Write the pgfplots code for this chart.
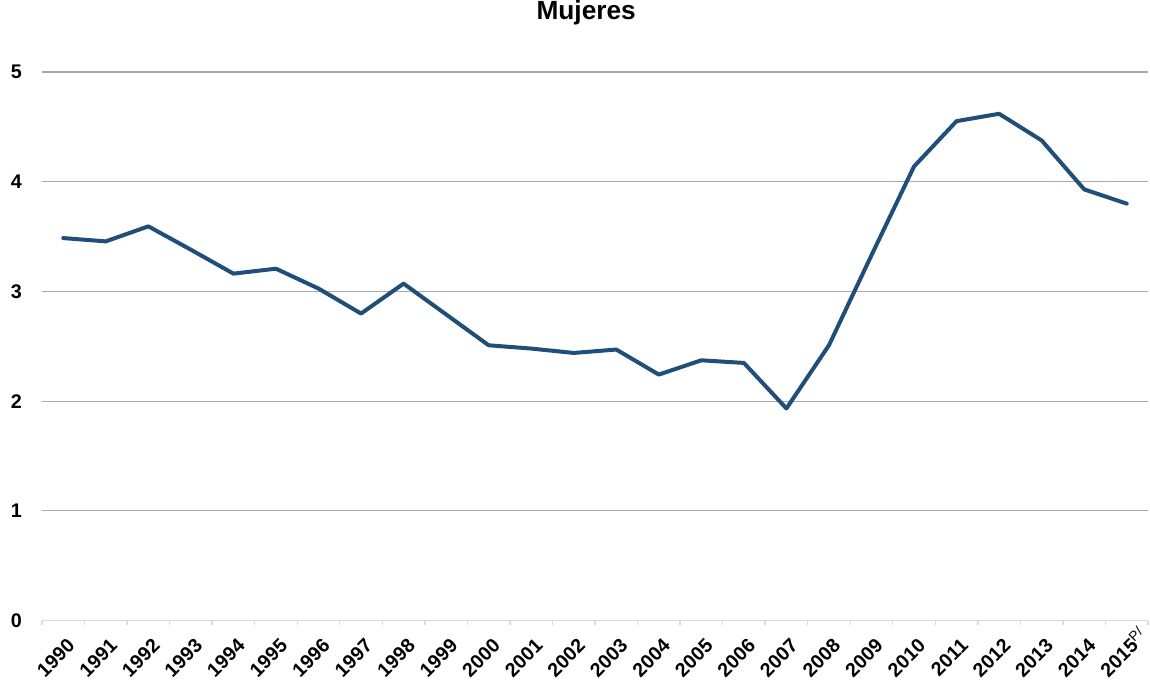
\documentclass[border=0pt]{standalone}
\usepackage{fontspec}
\setmainfont{Liberation Sans}
\usepackage{pgfplots}
\pgfplotsset{compat=1.18}
\definecolor{linecol}{RGB}{31,78,121}
\definecolor{gridcol}{RGB}{170,170,170}
\definecolor{axiscol}{RGB}{217,217,217}
\begin{document}
\begin{tikzpicture}
\begin{axis}[
  scale only axis,
  width=829.5pt, height=411.4pt,
  xmin=-0.5, xmax=25.5, ymin=0, ymax=5,
  axis x line=bottom, axis y line=left,
  x axis line style={-, draw=axiscol, line width=1.2pt},
  y axis line style={draw=none},
  ytick={0,1,2,3,4,5},
  ymajorgrids, grid style={draw=gridcol, line width=0.9pt},
  major tick length=0pt,
  xtick={0,...,25},
  xticklabels={1990,1991,1992,1993,1994,1995,1996,1997,1998,1999,2000,2001,2002,2003,2004,2005,2006,2007,2008,2009,2010,2011,2012,2013,2014,{2015\smash{\rlap{\textsuperscript{\mdseries P/}}}}},
  minor xtick={-0.5,0.5,...,25.5},
  minor tick length=3pt,
  tick align=outside,
  minor tick style={draw=axiscol, line width=1pt},
  x tick label style={font=\bfseries\fontsize{14.7}{16}\selectfont, rotate=45, anchor=north east, inner sep=0pt, xshift=-7.25pt, yshift=-10.4pt},
  y tick label style={font=\bfseries\fontsize{14.8}{16}\selectfont, anchor=east, inner sep=0pt, xshift=-15pt},
  /pgf/number format/assume math mode=true,
  title={Mujeres},
  title style={font=\bfseries\fontsize{19.7}{22}\selectfont, anchor=base, at={(axis description cs:0.492,1)}, yshift=33.5pt},
  clip=false,
]
\addplot[color=linecol, line width=3pt, line join=round, line cap=round] coordinates {
(0,3.486) (1,3.456) (2,3.593) (3,3.38) (4,3.162) (5,3.207) (6,3.026) (7,2.798) (8,3.071) (9,2.79)
(10,2.509) (11,2.479) (12,2.439) (13,2.47) (14,2.242) (15,2.372) (16,2.348) (17,1.933) (18,2.509) (19,3.33)
(20,4.139) (21,4.552) (22,4.619) (23,4.376) (24,3.93) (25,3.80)
};
\end{axis}
\pgfresetboundingbox
\useasboundingbox ([xshift=-31.5pt,yshift=-47.6pt]current axis.south west) rectangle ([xshift=1.5pt,yshift=54pt]current axis.north east);
\end{tikzpicture}
\end{document}
